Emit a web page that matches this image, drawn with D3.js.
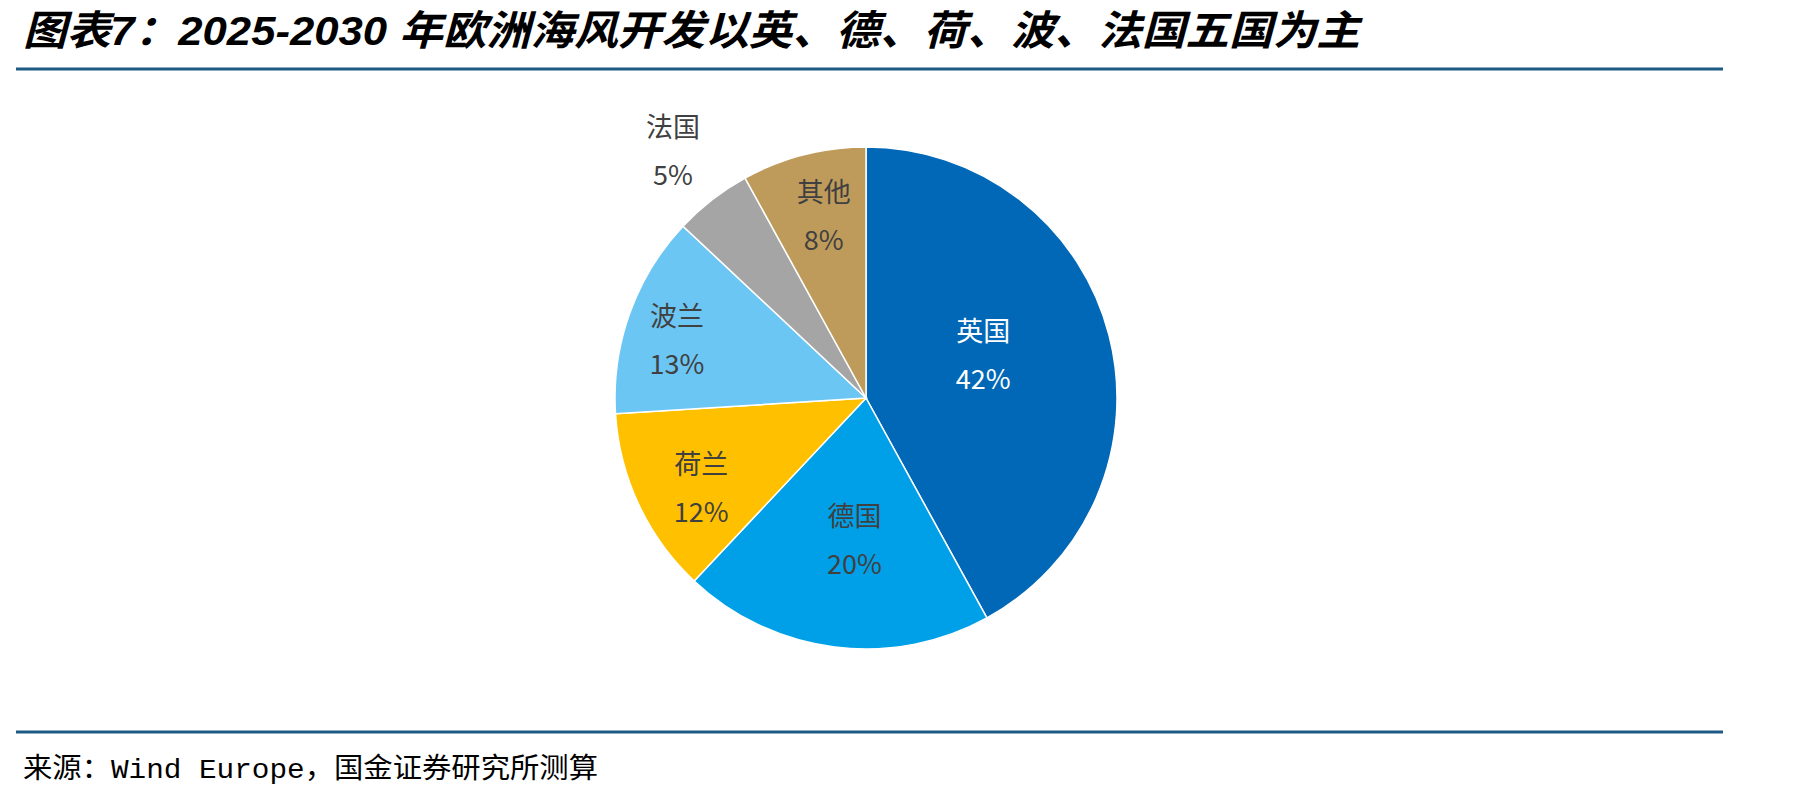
<!DOCTYPE html>
<html>
<head>
<meta charset="utf-8">
<script src="https://cdn.jsdelivr.net/npm/d3@7"></script>
<style>
    html, body { margin: 0; padding: 0; background: #ffffff; }
    svg { display: block; }
</style>
</head>
<body>
<script>
// chart values
var titleText = "图表7：2025-2030 年欧洲海风开发以英、德、荷、波、法国五国为主";
var sourceText = ["来源：", "Wind Europe", "，国金证券研究所测算"];
var countries = ["英国", "德国", "荷兰", "波兰", "法国", "其他"];
var shares = [42, 20, 12, 13, 5, 8];
var shareLabels = ["42%", "20%", "12%", "13%", "5%", "8%"];

function drawChart() {
    var w = 1811;
    var h = 800;
    var cx = 866;
    var cy = 398;
    var radius = 251;

    var sliceColors = ["#0068b6", "#00a0e9", "#ffc000", "#6cc6f4", "#a5a5a5", "#bf9b5b"];
    var textColors = ["#ffffff", "#404040", "#404040", "#404040", "#404040", "#404040"];
    // Excel "best fit" places each label at its own distance / angle from the centre
    var labelRadius = [0.5, 0.56, 0.745, 0.79, 1.255, 0.75];
    var labelAngleShift = [-6.6, -2.5, -3, -2.3, 0, 1.4];
    var cjkFont = "'Noto Sans CJK SC', 'Noto Sans', sans-serif";

    var svg = d3.select("body").append("svg")
        .attr("width", w)
        .attr("height", h);

    // TITLE
    svg.append("text")
        .attr("x", 23)
        .attr("y", 45)
        .attr("textLength", 1337)
        .attr("lengthAdjust", "spacingAndGlyphs")
        .style("font-family", "'Liberation Sans', " + cjkFont)
        .style("font-weight", "bold")
        .style("font-style", "italic")
        .style("font-size", "41px")
        .style("fill", "#000000")
        .text(titleText);

    // rules above and below the chart
    [69, 732].forEach(function (y) {
        svg.append("line")
            .attr("x1", 16)
            .attr("x2", 1723)
            .attr("y1", y)
            .attr("y2", y)
            .style("stroke", "#1c5a83")
            .style("stroke-width", 3);
    });

    // PIE
    var data = countries.map(function (c, i) {
        return {name: c, value: shares[i], label: shareLabels[i], idx: i};
    });
    var pie = d3.pie()
        .sort(null)
        .value(function (d) {
            return d.value;
        });
    var arc = d3.arc()
        .innerRadius(0)
        .outerRadius(radius);
    var arcs = pie(data);

    var chart = svg.append("g")
        .attr("transform", "translate(" + cx + "," + cy + ")");

    chart.selectAll(".slice")
        .data(arcs)
        .enter()
        .append("path")
        .classed("slice", true)
        .attr("d", arc)
        .style("fill", function (d) {
            return sliceColors[d.data.idx];
        })
        .style("stroke", "#ffffff")
        .style("stroke-width", 1.5);

    var labels = chart.selectAll(".label")
        .data(arcs)
        .enter()
        .append("g")
        .classed("label", true)
        .attr("transform", function (d) {
            var i = d.data.idx;
            var r = radius * labelRadius[i];
            var a = (d.startAngle + d.endAngle) / 2 + labelAngleShift[i] * Math.PI / 180;
            return "translate(" + (r * Math.sin(a)) + "," + (-r * Math.cos(a)) + ")";
        });

    labels.append("text")
        .attr("y", -24)
        .attr("text-anchor", "middle")
        .attr("dominant-baseline", "central")
        .style("font-family", cjkFont)
        .style("font-size", "27px")
        .style("fill", function (d) {
            return textColors[d.data.idx];
        })
        .text(function (d) {
            return d.data.name;
        });

    labels.append("text")
        .attr("y", 24)
        .attr("text-anchor", "middle")
        .attr("dominant-baseline", "central")
        .style("font-family", cjkFont)
        .style("font-size", "27px")
        .style("fill", function (d) {
            return textColors[d.data.idx];
        })
        .text(function (d) {
            return d.data.label;
        });

    // SOURCE
    var src = svg.append("text")
        .attr("x", 23)
        .attr("y", 778)
        .attr("textLength", 575)
        .attr("lengthAdjust", "spacingAndGlyphs")
        .style("font-family", cjkFont)
        .style("font-size", "28px")
        .style("fill", "#000000");
    src.append("tspan").text(sourceText[0]);
    src.append("tspan")
        .style("font-family", "'Liberation Mono', 'DejaVu Sans Mono', monospace")
        .text(sourceText[1]);
    src.append("tspan").text(sourceText[2]);
}

drawChart();
</script>
</body>
</html>
